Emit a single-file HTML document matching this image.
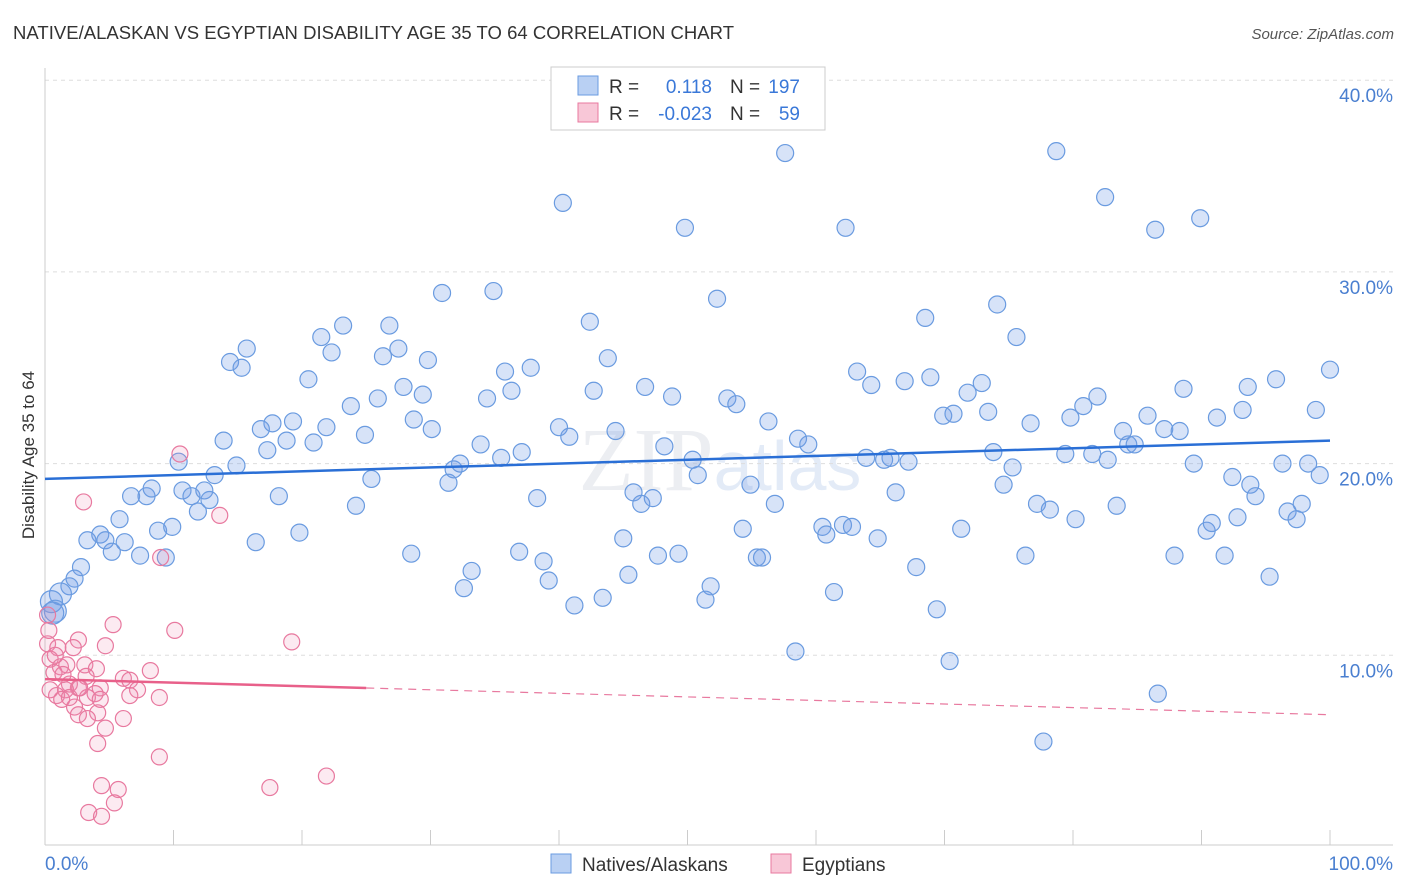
<!DOCTYPE html>
<html><head><meta charset="utf-8"><style>
body{margin:0;background:#fff;font-family:"Liberation Sans",sans-serif;}
svg{display:block}
</style></head><body>
<svg id="chart" width="1406" height="892" xmlns="http://www.w3.org/2000/svg">
<text x="13" y="39" font-size="18.5" fill="#333" textLength="721">NATIVE/ALASKAN VS EGYPTIAN DISABILITY AGE 35 TO 64 CORRELATION CHART</text>
<text x="1394" y="39" font-size="15" fill="#555" font-style="italic" text-anchor="end">Source: ZipAtlas.com</text>
<text x="720" y="490" font-size="90" fill="#eceef2" text-anchor="middle" font-family="Liberation Serif,serif">ZIP<tspan fill="#e3ebf7" font-family="Liberation Sans,sans-serif" font-size="70">atlas</tspan></text>
<g id="grid"></g>
<g id="axes"></g>
<g id="pts"></g>
<g id="trend"></g>
<text transform="translate(34,455) rotate(-90)" font-size="17" fill="#333" text-anchor="middle">Disability Age 35 to 64</text>
<g>
<rect x="551" y="67" width="274" height="63" fill="#fff" stroke="#ccc"/>
<rect x="578" y="76" width="20" height="19" fill="#b9d0f3" stroke="#6a9be0"/>
<rect x="578" y="103" width="20" height="19" fill="#f8c7d7" stroke="#e8799f"/>
<text x="609" y="93" font-size="19" fill="#333">R =</text><text x="712" y="93" font-size="19" fill="#3a78d8" text-anchor="end">0.118</text>
<text x="730" y="93" font-size="19" fill="#333">N =</text><text x="800" y="93" font-size="19" fill="#3a78d8" text-anchor="end">197</text>
<text x="609" y="120" font-size="19" fill="#333">R =</text><text x="712" y="120" font-size="19" fill="#3a78d8" text-anchor="end">-0.023</text>
<text x="730" y="120" font-size="19" fill="#333">N =</text><text x="800" y="120" font-size="19" fill="#3a78d8" text-anchor="end">59</text>
</g>
<g>
<rect x="551" y="854" width="20" height="19" fill="#b9d0f3" stroke="#6a9be0"/>
<text x="582" y="871" font-size="19" fill="#333">Natives/Alaskans</text>
<rect x="771" y="854" width="20" height="19" fill="#f8c7d7" stroke="#e8799f"/>
<text x="802" y="871" font-size="19" fill="#333">Egyptians</text>
</g>
</svg>
<script>
const yTicks=[10,20,30,40];
const yTickLabels=["10.0%","20.0%","30.0%","40.0%"];
const xTickLabels=["0.0%","100.0%"];
const blueX=[57.6,78.7,82.5,89.9,40.3,49.8,62.3,86.4,30.9,34.9,52.3,74.1,42.4,68.5,23.2,26.8,21.5,75.6,15.7,14.4,15.3,22.3,26.3,27.5,29.8,43.8,20.5,35.8,37.8,63.2,25.9,27.9,29.4,23.8,34.4,36.3,42.7,46.7,48.8,53.1,53.8,64.3,66.9,68.9,71.8,72.9,81.9,88.6,93.6,95.8,100.0,17.7,19.3,16.8,21.9,24.9,28.7,30.1,40.0,40.8,44.4,56.3,69.9,70.7,73.4,76.7,79.8,80.8,85.8,87.1,88.3,91.2,93.2,98.9,13.9,17.3,18.8,20.9,33.9,31.8,32.3,35.5,37.1,48.2,50.4,58.6,59.4,63.9,65.3,65.8,67.2,73.8,79.4,81.5,82.7,83.9,84.3,84.8,89.4,96.3,98.3,99.2,10.4,14.9,13.2,25.4,31.4,50.8,54.9,66.2,75.3,74.6,92.4,93.8,94.2,6.7,7.9,8.3,10.7,11.4,12.4,12.8,11.9,18.2,24.2,38.3,45.8,46.4,47.3,56.8,77.2,78.2,83.4,97.8,96.7,97.4,80.2,92.8,5.8,8.8,9.9,4.3,4.7,3.3,6.2,16.4,19.8,45.0,54.3,60.5,60.8,62.1,62.8,64.8,71.3,90.4,90.8,5.2,7.4,9.4,28.5,36.9,47.7,49.3,55.4,55.8,76.3,87.9,91.8,2.8,2.3,1.9,1.2,0.5,0.8,0.6,33.2,38.8,39.2,45.4,51.8,51.4,67.8,32.6,43.4,41.2,61.4,69.4,95.3,58.4,70.4,86.6,77.7];
const blueY=[36.2,36.3,33.9,32.8,33.6,32.3,32.3,32.2,28.9,29.0,28.6,28.3,27.4,27.6,27.2,27.2,26.6,26.6,26.0,25.3,25.0,25.8,25.6,26.0,25.4,25.5,24.4,24.8,25.0,24.8,23.4,24.0,23.6,23.0,23.4,23.8,23.8,24.0,23.5,23.4,23.1,24.1,24.3,24.5,23.7,24.2,23.5,23.9,24.0,24.4,24.9,22.1,22.2,21.8,21.9,21.5,22.3,21.8,21.9,21.4,21.7,22.2,22.5,22.6,22.7,22.1,22.4,23.0,22.5,21.8,21.7,22.4,22.8,22.8,21.2,20.7,21.2,21.1,21.0,19.7,20.0,20.3,20.6,20.9,20.2,21.3,21.0,20.3,20.2,20.3,20.1,20.6,20.5,20.5,20.2,21.7,21.0,21.0,20.0,20.0,20.0,19.4,20.1,19.9,19.4,19.2,19.0,19.4,18.9,18.5,19.8,18.9,19.3,18.9,18.3,18.3,18.3,18.7,18.6,18.3,18.6,18.1,17.5,18.3,17.8,18.2,18.5,17.9,18.2,17.9,17.9,17.6,17.8,17.9,17.5,17.1,17.1,17.2,17.1,16.5,16.7,16.3,16.0,16.0,15.9,15.9,16.4,16.1,16.6,16.7,16.3,16.8,16.7,16.1,16.6,16.5,16.9,15.4,15.2,15.1,15.3,15.4,15.2,15.3,15.1,15.1,15.2,15.2,15.2,14.6,14.0,13.6,13.2,12.8,12.3,12.2,14.4,14.9,13.9,14.2,13.6,12.9,14.6,13.5,13.0,12.6,13.3,12.4,14.1,10.2,9.7,8.0,5.5];
const pinkX=[3.0,10.5,13.6,9.0,5.3,10.1,19.2,2.6,4.7,0.2,1.0,2.2,0.4,1.2,1.7,3.1,4.0,0.7,1.4,3.2,6.1,8.2,6.6,1.9,2.6,1.6,4.3,7.2,3.9,0.9,1.3,3.3,2.3,4.3,6.6,8.9,2.6,4.1,3.3,6.1,4.7,4.1,8.9,4.4,5.7,17.5,21.9,5.4,3.4,4.4,0.2,0.3,0.8,1.9,2.7,0.4];
const pinkY=[18.0,20.5,17.3,15.1,11.6,11.3,10.7,10.8,10.5,10.6,10.4,10.4,9.8,9.4,9.5,9.5,9.3,9.1,9.0,8.9,8.8,9.2,8.7,8.5,8.3,8.2,8.3,8.2,8.0,7.9,7.7,7.8,7.3,7.7,7.9,7.8,6.9,7.0,6.7,6.7,6.2,5.4,4.7,3.2,3.0,3.1,3.7,2.3,1.8,1.6,12.1,11.3,10.0,7.8,8.3,8.2];
const blueTrend=[19.2,21.2];
const pinkTrend=[8.76,6.9];
const pinkSolidEnd=25;

const X0=45,X1=1330,Y0=847,PPU=19.17;
const xs=v=>X0+(X1-X0)*v/100;
const ys=v=>Y0-v*PPU;
const NS="http://www.w3.org/2000/svg";
function mk(tag,attrs,parent){const e=document.createElementNS(NS,tag);for(const k in attrs)e.setAttribute(k,attrs[k]);parent.appendChild(e);return e;}
const grid=document.getElementById('grid'),axes=document.getElementById('axes'),pts=document.getElementById('pts'),trend=document.getElementById('trend');
yTicks.forEach((t,i)=>{
 const l=mk('line',{x1:45,x2:1393,y1:ys(t),y2:ys(t),stroke:'#ddd','stroke-dasharray':'4,4'},grid);
 
 
 const tx=mk('text',{x:1393,y:ys(t)+22,'font-size':19,fill:'#4a7fd0','text-anchor':'end'},grid);
 tx.textContent=yTickLabels[i];
 
 
});
const ax=mk('line',{x1:45,x2:1393,y1:845,y2:845,stroke:'#ccc'},axes);


const ay=mk('line',{x1:45,x2:45,y1:68,y2:845,stroke:'#ccc'},axes);


for(let i=0;i<=10;i++){const t=mk('line',{x1:xs(i*10),x2:xs(i*10),y1:830,y2:845,stroke:'#ccc'},axes);
 
 }
const xl0=mk('text',{x:45,y:870,'font-size':19,fill:'#4a7fd0'},axes);xl0.textContent=xTickLabels[0];


const xl1=mk('text',{x:1393,y:870,'font-size':19,fill:'#4a7fd0','text-anchor':'end'},axes);xl1.textContent=xTickLabels[1];


blueX.forEach((v,i)=>{const c=mk('circle',{cx:xs(v),cy:ys(blueY[i]),r:(v<1.5&&blueY[i]>11)?11:8.5,fill:'rgba(110,155,230,0.28)',stroke:'#6a9be0','stroke-width':1.2},pts);
 
 });
pinkX.forEach((v,i)=>{const c=mk('circle',{cx:xs(v),cy:ys(pinkY[i]),r:8,fill:'rgba(240,140,175,0.18)',stroke:'#e8799f','stroke-width':1.2},pts);
 
 });
const bt=mk('line',{x1:xs(0),y1:ys(blueTrend[0]),x2:xs(100),y2:ys(blueTrend[1]),stroke:'#2a6fd6','stroke-width':2.5},trend);


const py=x=>pinkTrend[0]+(pinkTrend[1]-pinkTrend[0])*x/100;
const ps=mk('line',{x1:xs(0),y1:ys(py(0)),x2:xs(pinkSolidEnd),y2:ys(py(pinkSolidEnd)),stroke:'#e8608a','stroke-width':2.5},trend);


const pd=mk('line',{x1:xs(pinkSolidEnd),y1:ys(py(pinkSolidEnd)),x2:xs(100),y2:ys(py(100)),stroke:'#e8799f','stroke-width':1.2,'stroke-dasharray':'8,6'},trend);


</script>
</body></html>
